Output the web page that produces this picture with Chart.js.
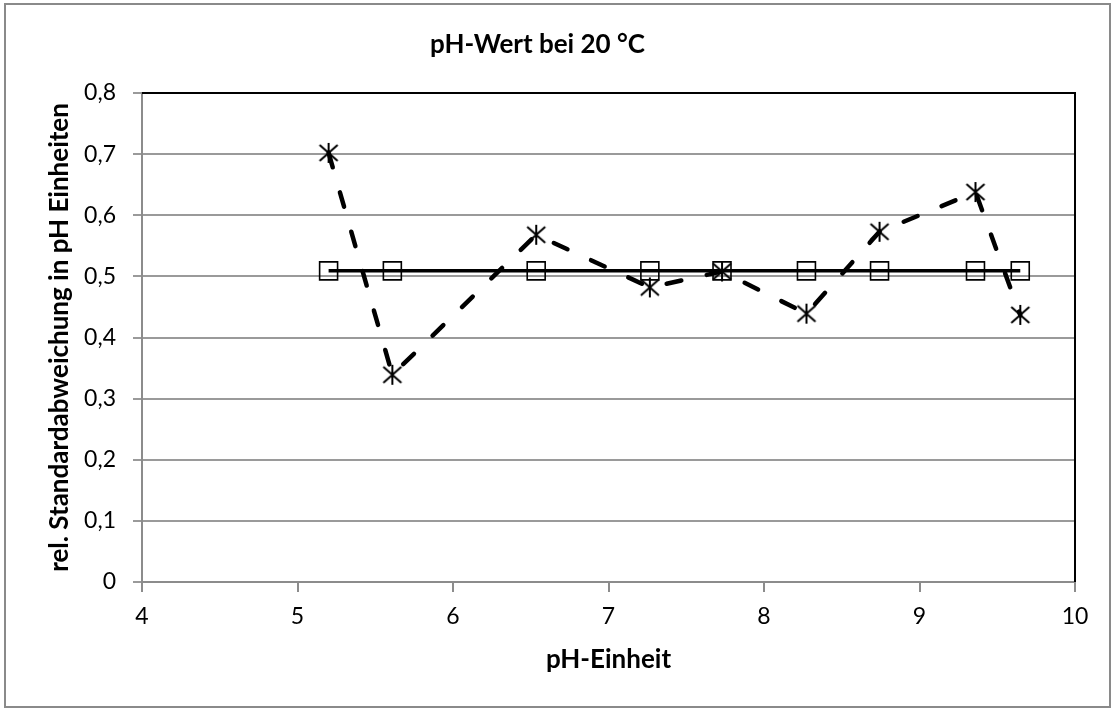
<!DOCTYPE html>
<html>
<head>
<meta charset="utf-8">
<script src="https://cdn.jsdelivr.net/npm/chart.js@4.4.1/dist/chart.umd.min.js"></script>
<style>
  html, body { margin: 0; padding: 0; background: #fff; }
  #wrap { width: 1117px; height: 711px; }
</style>
</head>
<body>
<div id="wrap"><canvas id="chart" width="1117" height="711"></canvas></div>
<script>
// pH values (x) shared by both series
var phValues = [5.2, 5.61, 6.535, 7.266, 7.73, 8.273, 8.743, 9.36, 9.648];
// measured relative standard deviation (asterisks, dashed)
var measured = [0.702, 0.339, 0.568, 0.482, 0.508, 0.439, 0.573, 0.638, 0.437];
// mean value (squares, solid)
var mean = [0.509, 0.509, 0.509, 0.509, 0.509, 0.509, 0.509, 0.509, 0.509];
var xTicks = [4, 5, 6, 7, 8, 9, 10];
var yTicks = [0, 0.1, 0.2, 0.3, 0.4, 0.5, 0.6, 0.7, 0.8];

var FONT = 'Lato, "Open Sans", sans-serif';

function toPoints(xs, ys) {
    return xs.map(function (x, i) { return { x: x, y: ys[i] }; });
}

// Excel-like asterisk: X plus vertical stroke
function asteriskMarker() {
    var c = document.createElement('canvas');
    c.width = 22; c.height = 22;
    var g = c.getContext('2d');
    g.strokeStyle = '#000';
    g.lineWidth = 2;
    g.beginPath();
    g.moveTo(2, 3); g.lineTo(20, 19);
    g.moveTo(20, 3); g.lineTo(2, 19);
    g.moveTo(11, 1); g.lineTo(11, 21);
    g.stroke();
    return c;
}

var frame = {
    id: 'frame',
    beforeDraw: function (chart) {
        var ctx = chart.ctx;
        ctx.save();
        ctx.fillStyle = '#fff';
        ctx.fillRect(0, 0, chart.width, chart.height);
        ctx.strokeStyle = '#8a8a8a';
        ctx.lineWidth = 2;
        ctx.strokeRect(5, 4, 1105, 703);
        ctx.restore();
    },
    afterDatasetsDraw: function (chart) {
        // black top and right border of the plot area
        var a = chart.chartArea, ctx = chart.ctx;
        ctx.save();
        ctx.strokeStyle = '#000';
        ctx.lineWidth = 2;
        ctx.beginPath();
        ctx.moveTo(a.left, a.top);
        ctx.lineTo(a.right, a.top);
        ctx.lineTo(a.right, a.bottom);
        ctx.stroke();
        ctx.restore();
    }
};

var ctx = document.getElementById('chart').getContext('2d');
var chart = new Chart(ctx, {
    type: 'scatter',
    data: {
        datasets: [{
            label: 'Mittelwert',
            data: toPoints(phValues, mean),
            showLine: true,
            borderColor: '#000',
            borderWidth: 3.5,
            pointStyle: 'rect',
            pointRadius: 12.7,
            pointBorderWidth: 1.6,
            pointBorderColor: '#000',
            pointBackgroundColor: 'rgba(0,0,0,0)',
            order: 2
        }, {
            label: 'Messwert',
            data: toPoints(phValues, measured),
            showLine: true,
            borderColor: '#000',
            borderWidth: 4.5,
            borderDash: [15, 26],
            borderCapStyle: 'round',
            pointStyle: asteriskMarker(),
            pointRadius: 10,
            order: 1
        }]
    },
    options: {
        responsive: false,
        animation: false,
        layout: { padding: { left: 0, right: 42, top: 0, bottom: 0 } },
        plugins: {
            legend: { display: false },
            tooltip: { enabled: false },
            title: {
                display: true,
                text: 'pH-Wert bei 20 °C',
                color: '#000',
                font: { family: FONT, size: 26, weight: 'bold', lineHeight: 1.2 },
                padding: { top: 29.4, bottom: 32.4 }
            }
        },
        scales: {
            x: {
                type: 'linear',
                min: 4,
                max: 10,
                afterBuildTicks: function (s) { s.ticks = xTicks.map(function (v) { return { value: v }; }); },
                afterFit: function (s) { s.height = 129; },
                ticks: {
                    color: '#000',
                    font: { family: FONT, size: 23 },
                    padding: 11,
                    maxRotation: 0,
                    callback: function (v) { return String(v); }
                },
                grid: { drawOnChartArea: false, drawTicks: true, tickLength: 10, color: '#8c8c8c', lineWidth: 2 },
                border: { color: '#8c8c8c', width: 2 },
                title: {
                    display: true,
                    text: 'pH-Einheit',
                    color: '#000',
                    font: { family: FONT, size: 26, weight: 'bold', lineHeight: 1.2 },
                    padding: { top: 0, bottom: 35.4 }
                }
            },
            y: {
                min: 0,
                max: 0.8,
                afterBuildTicks: function (s) { s.ticks = yTicks.map(function (v) { return { value: v }; }); },
                afterFit: function (s) { s.width = 142; },
                ticks: {
                    color: '#000',
                    font: { family: FONT, size: 23 },
                    padding: 17,
                    callback: function (v) {
                        var r = Math.round(v * 10) / 10;
                        return r === 0 ? '0' : r.toFixed(1).replace('.', ',');
                    }
                },
                grid: { color: '#9a9a9a', lineWidth: 2, tickLength: 9, drawTicks: true },
                border: { color: '#8c8c8c', width: 2 },
                title: {
                    display: true,
                    text: 'rel. Standardabweichung in pH Einheiten',
                    color: '#000',
                    font: { family: FONT, size: 26, weight: 'bold', lineHeight: 1.2 },
                    padding: { top: 44.4, bottom: 0 }
                }
            }
        }
    },
    plugins: [frame]
});
</script>
</body>
</html>
